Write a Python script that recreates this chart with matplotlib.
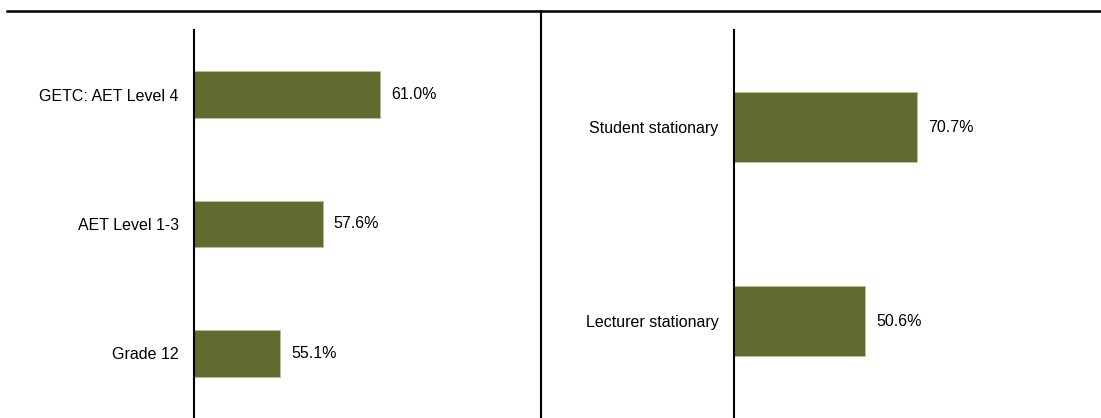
import matplotlib.pyplot as plt
from matplotlib.lines import Line2D

plt.rcParams['font.family'] = ['Liberation Sans', 'DejaVu Sans']

# qualification levels
qual_labels = ["GETC: AET Level 4", "AET Level 1-3", "Grade 12"]
qual_values = [61.0, 57.6, 55.1]

# stationary provision
stat_labels = ["Student stationary", "Lecturer stationary"]
stat_values = [70.7, 50.6]

BAR_COLOR = "#606B2F"
FONT_SIZE = 11.5
W, H = 1101, 418

fig = plt.figure(figsize=(W / 100, H / 100), dpi=100)

# axes boxes in pixels: left, bottom, width, height
ax1 = fig.add_axes([194 / W, 0, (541 - 194) / W, (418 - 30) / H])
ax2 = fig.add_axes([734 / W, 0, (1101 - 734) / W, (418 - 30) / H])


def draw_panel(ax, labels, values, xlim, height):
    pos = range(len(labels))
    ax.barh(pos, values, height=height, color=BAR_COLOR,
            edgecolor="#B9C08F", linewidth=0.6, left=0)
    ax.set_xlim(*xlim)
    ax.set_ylim(len(labels) - 0.5, -0.5)
    ax.set_yticks(list(pos))
    ax.set_yticklabels(labels, fontsize=FONT_SIZE)
    ax.tick_params(axis="y", length=0, pad=11)
    ax.set_xticks([])
    for s in ["top", "right", "bottom"]:
        ax.spines[s].set_visible(False)
    ax.spines["left"].set_linewidth(1.5)
    for p, v in zip(pos, values):
        ax.annotate(f"{v:.1f}%", (v, p), xytext=(8, 0),
                    textcoords="offset points", va="center", ha="left",
                    fontsize=FONT_SIZE)


draw_panel(ax1, qual_labels, qual_values, (50, 70.5), 0.36)
draw_panel(ax2, stat_labels, stat_values, (0, 141.7), 0.36)

# header rule and panel divider
fig.add_artist(Line2D([7 / W, 1], [1 - 11 / H, 1 - 11 / H], color="black",
                      linewidth=1.8, transform=fig.transFigure))
fig.add_artist(Line2D([541 / W, 541 / W], [0, 1 - 11 / H], color="black",
                      linewidth=1.5, transform=fig.transFigure))

fig.savefig("out.png", dpi=100, facecolor="white")
